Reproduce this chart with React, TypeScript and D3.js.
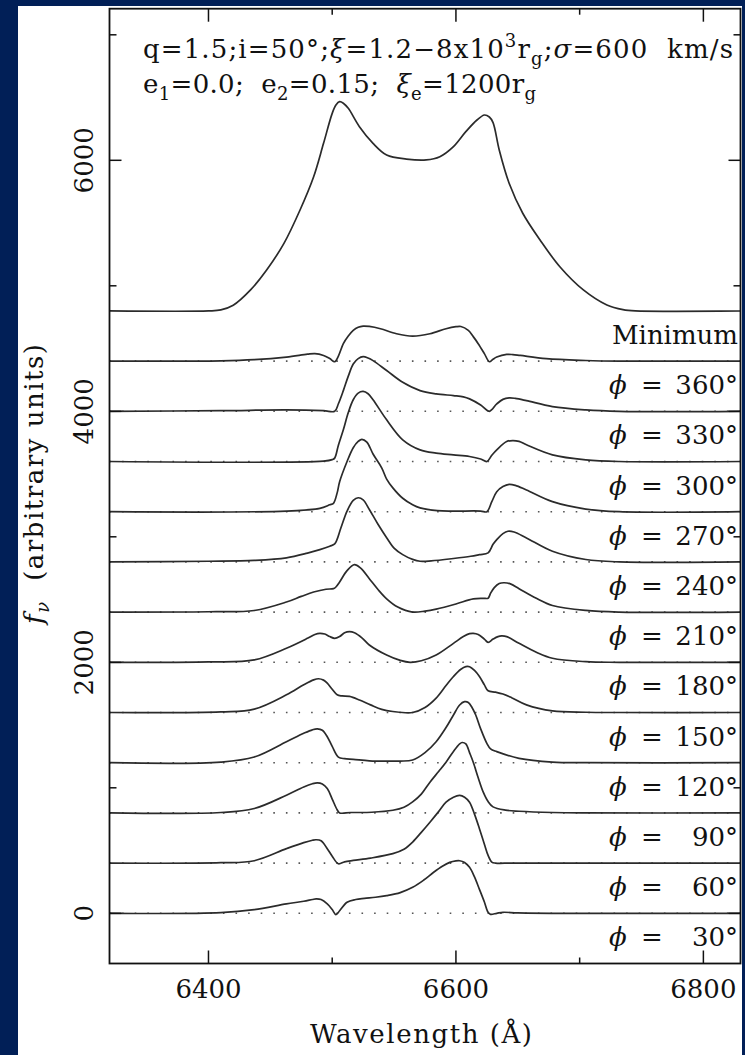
import React from 'react';
import * as d3 from 'd3';

const WIDTH = 745;
const HEIGHT = 1055;

// Axis ticks
const xMajorTicks = [6400, 6600, 6800];
const xMinorTicks = [6500, 6700];
const yMajorTicks = [0, 2000, 4000, 6000];
const yMinorTicks = [1000, 3000, 5000, 7000];

// Profile labels (top to bottom) and their vertical offsets
const profileLabels = ['Minimum', '360', '330', '300', '270', '240', '210', '180', '150', '120', '90', '60', '30'];
const profileOffsets = [4800, 4400, 4000, 3600, 3200, 2800, 2400, 2000, 1600, 1200, 800, 400, 0];

// [wavelength (Å), flux above the profile's own baseline]
const minimumProfile: [number, number][] = [
  [6320, 0], [6400, 0], [6410, 8], [6420, 45], [6434, 167], [6447, 326], [6461, 538], [6474, 804],
  [6485, 1069], [6493, 1335], [6500, 1574], [6503, 1640], [6506, 1667], [6509, 1655], [6513, 1614],
  [6522, 1468], [6533, 1335], [6544, 1242], [6560, 1210], [6576, 1203], [6587, 1229], [6598, 1309],
  [6608, 1428], [6617, 1521], [6623, 1561], [6627, 1545], [6630, 1500], [6635, 1282], [6643, 1017],
  [6654, 778], [6668, 565], [6684, 352], [6703, 167], [6722, 47], [6735, 10], [6745, 0], [6830, 0],
];

const phi360: [number, number][] = [
  [6320, 0], [6410, 2], [6437, 11], [6463, 32], [6480, 55], [6486, 60], [6493, 45], [6498, 20],
  [6502, -5], [6505, 40], [6509, 139], [6513, 200], [6517, 245], [6521, 270], [6525, 279], [6530, 276],
  [6539, 258], [6552, 218], [6565, 199], [6579, 218], [6592, 258], [6600, 274], [6604, 276], [6610, 245],
  [6614, 195], [6618, 139], [6623, 60], [6627, -5], [6630, 15], [6633, 32], [6641, 53], [6646, 52],
  [6652, 45], [6673, 19], [6705, 5], [6732, 0], [6830, 0],
];

const phi330: [number, number][] = [
  [6320, 0], [6410, 5], [6463, 11], [6493, 5], [6502, 0], [6505, 60], [6509, 165], [6513, 280],
  [6517, 377], [6521, 420], [6525, 436], [6529, 425], [6533, 404], [6544, 325], [6557, 231], [6571, 165],
  [6584, 139], [6598, 125], [6606, 115], [6611, 99], [6620, 50], [6627, 0], [6633, 59], [6638, 95],
  [6643, 107], [6648, 103], [6657, 85], [6678, 37], [6705, 11], [6732, 0], [6830, 0],
];

const phi300: [number, number][] = [
  [6320, 0], [6493, 3], [6500, 15], [6502, 27], [6505, 130], [6509, 253], [6513, 390], [6517, 492],
  [6521, 545], [6525, 558], [6529, 540], [6533, 492], [6544, 332], [6557, 173], [6571, 93], [6584, 67],
  [6598, 53], [6611, 40], [6620, 20], [6625, 0], [6629, 50], [6633, 93], [6641, 159], [6646, 167],
  [6651, 160], [6657, 133], [6678, 53], [6705, 13], [6732, 0], [6830, 0],
];

const phi270: [number, number][] = [
  [6320, 0], [6463, 5], [6490, 27], [6498, 55], [6501, 67], [6504, 150], [6506, 239], [6512, 400],
  [6517, 510], [6521, 560], [6524, 577], [6528, 555], [6533, 460], [6540, 350], [6544, 260], [6549, 190],
  [6557, 107], [6565, 55], [6571, 30], [6585, 8], [6598, 5], [6620, 5], [6625, 0], [6629, 80],
  [6633, 159], [6638, 200], [6643, 218], [6648, 210], [6657, 173], [6678, 80], [6705, 21], [6732, 0],
  [6830, 0],
];

const phi240: [number, number][] = [
  [6320, 0], [6400, 5], [6437, 12], [6463, 32], [6480, 70], [6490, 98], [6498, 125], [6502, 143],
  [6507, 270], [6512, 405], [6517, 490], [6521, 511], [6525, 495], [6530, 418], [6537, 300], [6544, 193],
  [6550, 110], [6557, 58], [6565, 20], [6571, 5], [6580, 8], [6598, 27], [6612, 45], [6619, 58],
  [6626, 72], [6630, 140], [6633, 178], [6638, 225], [6642, 244], [6647, 238], [6657, 191], [6678, 85],
  [6705, 19], [6732, 0], [6830, 0],
];

const phi210: [number, number][] = [
  [6320, 0], [6400, 3], [6437, 13], [6463, 80], [6475, 125], [6485, 160], [6495, 182], [6501, 187],
  [6503, 200], [6506, 240], [6512, 330], [6518, 378], [6523, 350], [6530, 266], [6537, 180], [6544, 106],
  [6553, 40], [6565, 0], [6575, 8], [6584, 24], [6600, 65], [6614, 106], [6622, 110], [6626, 111],
  [6628, 150], [6631, 195], [6635, 228], [6639, 234], [6644, 225], [6651, 187], [6665, 110], [6678, 53],
  [6705, 13], [6732, 0], [6830, 0],
];

const phi180: [number, number][] = [
  [6320, 0], [6400, 3], [6437, 19], [6463, 112], [6480, 191], [6486, 222], [6490, 231], [6494, 225],
  [6498, 205], [6502, 191], [6506, 205], [6510, 235], [6514, 244], [6518, 235], [6524, 195], [6530, 138],
  [6544, 58], [6555, 15], [6563, 0], [6572, 12], [6584, 58], [6598, 151], [6606, 205], [6611, 228],
  [6614, 231], [6618, 222], [6623, 185], [6626, 159], [6630, 185], [6634, 205], [6637, 210], [6641, 205],
  [6651, 151], [6665, 80], [6678, 32], [6705, 5], [6732, 0], [6830, 0],
];

const phi150: [number, number][] = [
  [6320, 0], [6410, 5], [6437, 27], [6463, 141], [6477, 221], [6485, 260], [6489, 269], [6493, 258],
  [6496, 234], [6500, 185], [6504, 141], [6508, 132], [6514, 128], [6522, 100], [6531, 61], [6540, 25],
  [6549, 8], [6565, 0], [6575, 40], [6584, 115], [6592, 215], [6598, 287], [6604, 345], [6608, 366],
  [6611, 365], [6615, 335], [6619, 287], [6623, 220], [6626, 173], [6632, 162], [6638, 147], [6645, 118],
  [6657, 61], [6678, 13], [6705, 2], [6732, 0], [6830, 0],
];

const phi120: [number, number][] = [
  [6320, 0], [6410, 5], [6437, 45], [6463, 167], [6477, 234], [6484, 262], [6488, 269], [6492, 258],
  [6496, 207], [6500, 130], [6505, 45], [6510, 32], [6517, 27], [6530, 15], [6545, 12], [6555, 13],
  [6565, 21], [6575, 80], [6584, 167], [6592, 280], [6598, 380], [6603, 460], [6607, 486], [6610, 480],
  [6613, 440], [6616, 380], [6620, 270], [6625, 154], [6628, 110], [6633, 88], [6651, 35], [6678, 5],
  [6705, 0], [6830, 0],
];

const phi90: [number, number][] = [
  [6320, 0], [6410, 3], [6437, 35], [6463, 141], [6477, 207], [6484, 232], [6488, 239], [6492, 230],
  [6496, 194], [6500, 110], [6504, 25], [6506, 0], [6515, 3], [6532, 5], [6549, 21], [6558, 45],
  [6565, 88], [6572, 150], [6579, 245], [6586, 330], [6592, 404], [6598, 490], [6603, 550], [6605, 561],
  [6608, 550], [6611, 480], [6614, 404], [6618, 280], [6622, 167], [6626, 90], [6630, 48], [6640, 22],
  [6651, 13], [6678, 3], [6705, 0], [6830, 0],
];

const phi60: [number, number][] = [
  [6320, 0], [6410, 3], [6437, 19], [6463, 115], [6477, 163], [6484, 182], [6487, 186], [6491, 178],
  [6496, 115], [6500, 55], [6505, -5], [6510, 10], [6517, 21], [6531, 40], [6549, 75], [6558, 110],
  [6565, 168], [6572, 245], [6579, 326], [6586, 410], [6592, 485], [6598, 525], [6603, 539], [6607, 525],
  [6611, 485], [6615, 390], [6619, 274], [6623, 150], [6626, 61], [6629, 8], [6632, 0], [6645, 0],
  [6700, 0], [6830, 0],
];

const phi30: [number, number][] = [
  [6320, 0], [6410, 5], [6437, 29], [6463, 75], [6477, 96], [6484, 110], [6487, 115], [6491, 110],
  [6496, 75], [6500, 30], [6503, -10], [6506, 20], [6512, 88], [6519, 110], [6526, 119], [6535, 128],
  [6544, 141], [6555, 165], [6565, 207], [6574, 265], [6582, 327], [6589, 375], [6595, 406], [6600, 418],
  [6603, 419], [6607, 405], [6611, 366], [6615, 290], [6619, 191], [6623, 90], [6626, 8], [6628, -8],
  [6633, 0], [6638, 8], [6650, 3], [6680, 0], [6830, 0],
];

const profiles = [
  minimumProfile, phi360, phi330, phi300, phi270, phi240, phi210,
  phi180, phi150, phi120, phi90, phi60, phi30,
];

// Plot frame
const FRAME = { left: 109.5, right: 740.5, top: 8.7, bottom: 963.5 };
const SERIF = '"DejaVu Serif", "Liberation Serif", serif';
const NAVY = '#011f57';

export default function App() {
  const x = d3.scaleLinear().domain([6320, 6830]).range([FRAME.left, FRAME.right]);
  const y = d3.scaleLinear().domain([-400, 7208]).range([FRAME.bottom, FRAME.top]);

  const line = (offset: number) =>
    d3
      .line<[number, number]>()
      .x((d) => x(d[0]))
      .y((d) => y(d[1] + offset))
      .curve(d3.curveCatmullRom.alpha(0.5));

  return (
    <svg
      width={WIDTH}
      height={HEIGHT}
      style={{ position: 'fixed', left: 0, top: 0, display: 'block' }}
      fontFamily={SERIF}
    >
      <defs>
        <clipPath id="plot-area">
          <rect x={FRAME.left} y={FRAME.top} width={FRAME.right - FRAME.left} height={FRAME.bottom - FRAME.top} />
        </clipPath>
      </defs>
      <rect x={0} y={0} width={WIDTH} height={HEIGHT} fill={NAVY} />
      <rect x={18} y={6} width={724} height={HEIGHT - 6} fill="#ffffff" />

      {/* dotted zero levels of the difference profiles */}
      <g clipPath="url(#plot-area)">
        {profileOffsets.slice(1).map((off) => (
          <line
            key={`base-${off}`}
            x1={FRAME.left}
            x2={FRAME.right}
            y1={y(off)}
            y2={y(off)}
            stroke="#555"
            strokeWidth={1.6}
            strokeDasharray="1.6 11"
          />
        ))}
        {profiles.map((p, i) => (
          <path
            key={`prof-${i}`}
            d={line(profileOffsets[i])(p) || ''}
            fill="none"
            stroke="#2b2b2b"
            strokeWidth={1.7}
            strokeLinejoin="round"
          />
        ))}
      </g>

      {/* frame */}
      <rect
        x={FRAME.left}
        y={FRAME.top}
        width={FRAME.right - FRAME.left}
        height={FRAME.bottom - FRAME.top}
        fill="none"
        stroke="#111"
        strokeWidth={1.8}
      />

      {/* x ticks, bottom and top */}
      {xMajorTicks.map((t) => (
        <g key={`xM-${t}`} stroke="#111" strokeWidth={1.5}>
          <line x1={x(t)} x2={x(t)} y1={FRAME.bottom} y2={FRAME.bottom - 13} />
          <line x1={x(t)} x2={x(t)} y1={FRAME.top} y2={FRAME.top + 13} />
        </g>
      ))}
      {xMinorTicks.map((t) => (
        <g key={`xm-${t}`} stroke="#111" strokeWidth={1.5}>
          <line x1={x(t)} x2={x(t)} y1={FRAME.bottom} y2={FRAME.bottom - 6} />
          <line x1={x(t)} x2={x(t)} y1={FRAME.top} y2={FRAME.top + 6} />
        </g>
      ))}
      {xMajorTicks.map((t) => (
        <text key={`xl-${t}`} x={x(t)} y={998} fontSize={26} textAnchor="middle" fill="#111">
          {t}
        </text>
      ))}

      {/* y ticks, left and right */}
      {yMajorTicks.map((t) => (
        <g key={`yM-${t}`} stroke="#111" strokeWidth={1.5}>
          <line x1={FRAME.left} x2={FRAME.left + 12} y1={y(t)} y2={y(t)} />
          <line x1={FRAME.right} x2={FRAME.right - 12} y1={y(t)} y2={y(t)} />
        </g>
      ))}
      {yMinorTicks.map((t) => (
        <g key={`ym-${t}`} stroke="#111" strokeWidth={1.5}>
          <line x1={FRAME.left} x2={FRAME.left + 7} y1={y(t)} y2={y(t)} />
          <line x1={FRAME.right} x2={FRAME.right - 7} y1={y(t)} y2={y(t)} />
        </g>
      ))}
      {yMajorTicks.map((t) => (
        <text
          key={`yl-${t}`}
          transform={`translate(93,${y(t)}) rotate(-90)`}
          fontSize={26}
          textAnchor="middle"
          fill="#111"
        >
          {t}
        </text>
      ))}

      {/* axis titles */}
      <text x={421} y={1043} fontSize={26} textAnchor="middle" textLength={222} lengthAdjust="spacing" fill="#111">
        Wavelength (Å)
      </text>
      <text
        transform="translate(43,484) rotate(-90)"
        fontSize={26}
        textAnchor="middle"
        fill="#111"
        textLength={280}
        lengthAdjust="spacing"
        style={{ whiteSpace: 'pre' }}
      >
        <tspan fontStyle="italic">f</tspan>
        <tspan dy={6} fontSize={18} fontStyle="italic">ν</tspan>
        <tspan dy={-6}>{'  (arbitrary units)'}</tspan>
      </text>

      {/* model parameters */}
      <text x={143} y={58} fontSize={26} fill="#111" textLength={590} lengthAdjust="spacing" style={{ whiteSpace: 'pre' }}>
        {'q=1.5;i=50°;'}
        <tspan fontStyle="italic">ξ</tspan>
        {'=1.2−8x10'}
        <tspan dy={-11} fontSize={18}>3</tspan>
        <tspan dy={11}>r</tspan>
        <tspan dy={7} fontSize={18}>g</tspan>
        <tspan dy={-7}>;</tspan>
        <tspan fontStyle="italic">σ</tspan>
        {'=600  km/s'}
      </text>
      <text x={143} y={93} fontSize={26} fill="#111" textLength={393} lengthAdjust="spacing" style={{ whiteSpace: 'pre' }}>
        {'e'}
        <tspan dy={7} fontSize={18}>1</tspan>
        <tspan dy={-7}>{'=0.0;  e'}</tspan>
        <tspan dy={7} fontSize={18}>2</tspan>
        <tspan dy={-7}>{'=0.15;  '}</tspan>
        <tspan fontStyle="italic">ξ</tspan>
        <tspan dy={7} fontSize={18}>e</tspan>
        <tspan dy={-7}>{'=1200r'}</tspan>
        <tspan dy={7} fontSize={18}>g</tspan>
      </text>

      {/* profile labels */}
      {profileLabels.map((lab, i) => {
        const yy = y(profileOffsets[i]) + 33;
        if (lab === 'Minimum') {
          return (
            <text key={lab} x={738} y={yy} fontSize={26} textAnchor="end" fill="#111">
              {lab}
            </text>
          );
        }
        return (
          <g key={lab} fill="#111" fontSize={26}>
            <text x={609} y={yy} fontStyle="italic">ϕ</text>
            <text x={641} y={yy}>=</text>
            <text x={738} y={yy} textAnchor="end">{`${lab}°`}</text>
          </g>
        );
      })}
    </svg>
  );
}
